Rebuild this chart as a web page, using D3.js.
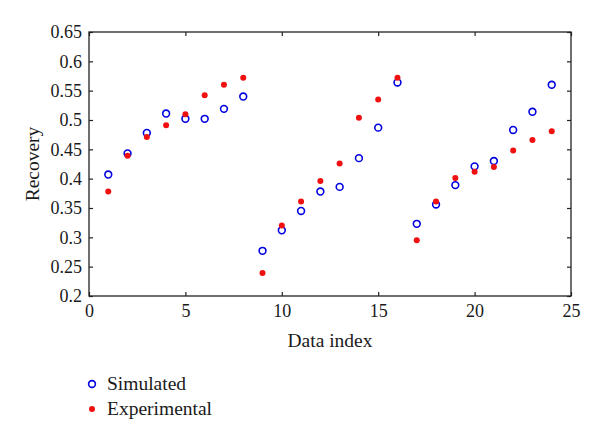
<!DOCTYPE html>
<html><head><meta charset="utf-8">
<script src="https://cdn.jsdelivr.net/npm/d3@7"></script>
<style>body{margin:0;background:#fff}svg{display:block}text{font-family:"Liberation Serif","DejaVu Serif",serif;fill:#1a1a1a}</style>
</head><body><svg id="c" width="600" height="443"></svg>
<script>
const indices = d3.range(1, 25);
const simulated = [0.407,0.443,0.478,0.511,0.502,0.502,0.519,0.540,0.277,0.312,0.345,0.378,0.386,0.435,0.487,0.564,0.323,0.356,0.389,0.421,0.430,0.483,0.514,0.560];
const experimental = [0.378,0.439,0.471,0.491,0.510,0.542,0.560,0.572,0.239,0.320,0.361,0.396,0.426,0.504,0.535,0.572,0.295,0.361,0.401,0.412,0.420,0.448,0.466,0.481];
const xTicks = [0,5,10,15,20,25];
const yTicks = [0.2,0.25,0.3,0.35,0.4,0.45,0.5,0.55,0.6,0.65];
const seriesNames = ["Simulated","Experimental"];

const svg = d3.select("#c");
const L=89, R=571, T=32, B=296;
const x = d3.scaleLinear().domain([0,25]).range([L,R]);
const y = d3.scaleLinear().domain([0.2,0.65]).range([B,T]);
const fmt = d => String(+d.toFixed(2));

const ax = (g, axis) => g.call(axis).call(s=>s.select(".domain").remove()).call(s=>s.selectAll("line").attr("stroke","#222").attr("stroke-width",1.2));
const tl = 4;
svg.append("g").attr("transform",`translate(0,${B})`).call(g=>ax(g,d3.axisBottom(x).tickValues(xTicks).tickSize(-tl).tickFormat(d=>d)))
  .selectAll("text").attr("font-size",18).attr("dy","0.75em").attr("y",7);
svg.append("g").attr("transform",`translate(0,${T})`).call(g=>ax(g,d3.axisTop(x).tickValues(xTicks).tickSize(-tl).tickFormat("")));
svg.append("g").attr("transform",`translate(${L},0)`).call(g=>ax(g,d3.axisLeft(y).tickValues(yTicks).tickSize(-tl).tickFormat(fmt)))
  .selectAll("text").attr("font-size",18).attr("x",-7);
svg.append("g").attr("transform",`translate(${R},0)`).call(g=>ax(g,d3.axisRight(y).tickValues(yTicks).tickSize(-tl).tickFormat("")));
svg.append("rect").attr("x",L).attr("y",T).attr("width",R-L).attr("height",B-T).attr("fill","none").attr("stroke","#222").attr("stroke-width",1.3);

svg.append("text").attr("x",(L+R)/2).attr("y",347).attr("text-anchor","middle").attr("font-size",19.5).text("Data index");
svg.append("text").attr("transform",`translate(39,164) rotate(-90)`).attr("text-anchor","middle").attr("font-size",19.5).text("Recovery");

svg.append("g").selectAll("circle").data(indices).join("circle")
  .attr("cx",d=>x(d)).attr("cy",(d,i)=>y(simulated[i])).attr("r",3.4)
  .attr("fill","none").attr("stroke","#0000e0").attr("stroke-width",1.6);
svg.append("g").selectAll("circle").data(indices).join("circle")
  .attr("cx",d=>x(d)).attr("cy",(d,i)=>y(experimental[i])).attr("r",3)
  .attr("fill","#f01010");

const lg = svg.append("g");
lg.append("circle").attr("cx",92).attr("cy",384).attr("r",3.4).attr("fill","none").attr("stroke","#0000e0").attr("stroke-width",1.6);
lg.append("circle").attr("cx",92).attr("cy",409).attr("r",3).attr("fill","#f01010");
lg.append("text").attr("x",107).attr("y",390).attr("font-size",19.5).text(seriesNames[0]);
lg.append("text").attr("x",107).attr("y",415).attr("font-size",19.5).text(seriesNames[1]);
</script></body></html>
